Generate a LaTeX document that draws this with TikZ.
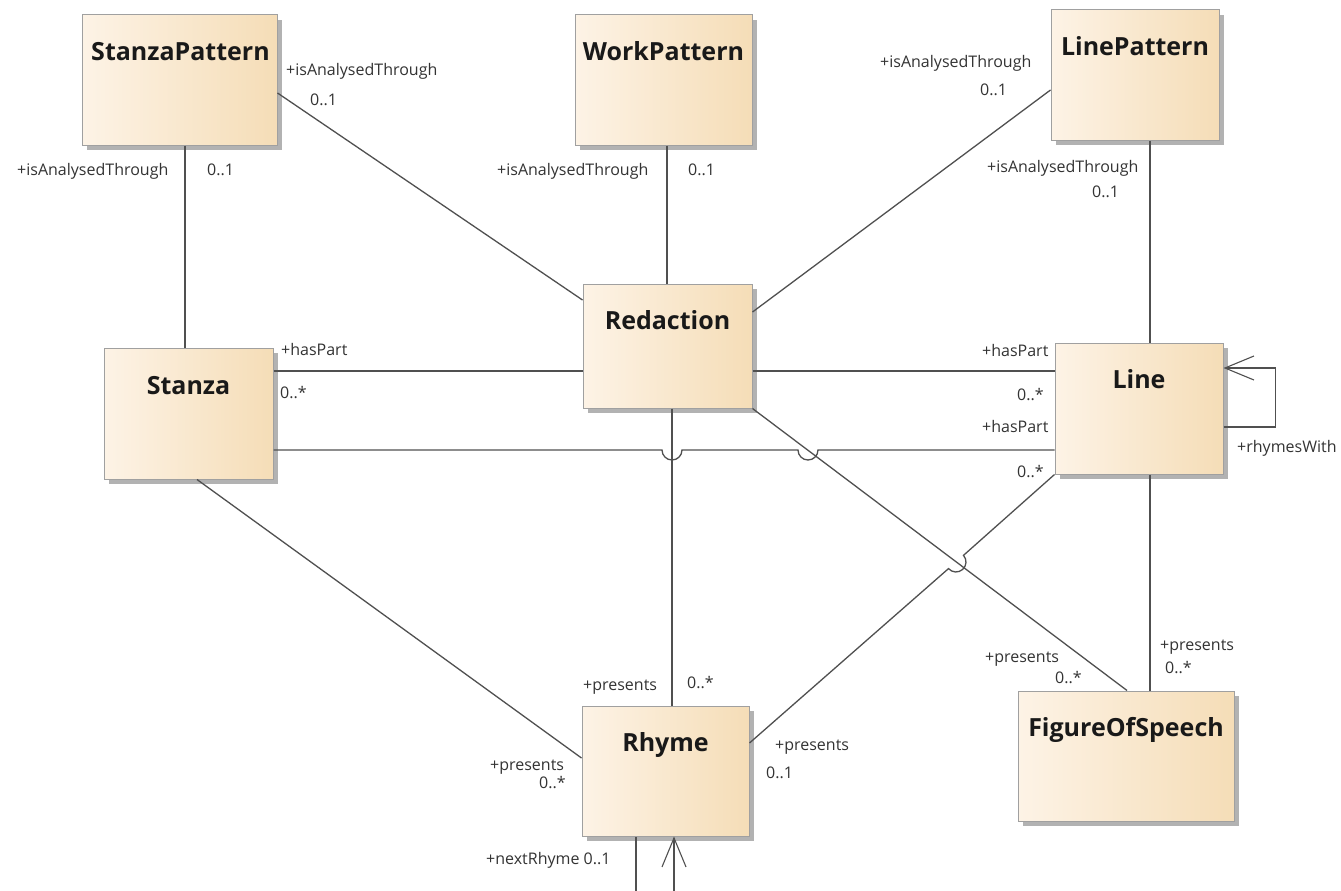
\documentclass[tikz,border=0pt]{standalone}
\usepackage{fontspec}
\setmainfont{Open Sans}
\usetikzlibrary{arrows.meta,shadows}
\definecolor{boxL}{RGB}{253,243,230}
\definecolor{boxR}{RGB}{245,221,183}
\definecolor{edgegray}{RGB}{160,160,160}
\definecolor{conncol}{RGB}{80,80,80}
\definecolor{shad}{RGB}{178,178,178}
\tikzset{
  umlbox/.style={draw=edgegray, line width=1pt, left color=boxL, right color=boxR, inner sep=0pt,
    drop shadow={shadow xshift=5pt, shadow yshift=-5pt, fill=shad, opacity=1}},
  ttl/.style={font=\fontsize{25}{30}\selectfont\bfseries, text=black!90, inner sep=0pt, text height=18pt, text depth=0pt},
  lbl/.style={font=\fontsize{16}{19}\selectfont, text=black!80, inner sep=0pt, anchor=west, text height=11.5pt, text depth=0pt},
  assoc/.style={draw=conncol, line width=1.3pt},
  selfarrow/.style={-{Straight Barb[length=29pt,width=24pt,line width=1.1pt]}}
}
\begin{document}
\begin{tikzpicture}[x=1pt,y=-1pt]
\useasboundingbox (0,0) rectangle (1341,891);
\fill[white] (0,0) rectangle (1341,891);

\coordinate (h1) at (662,450);
\coordinate (h2) at (798,450);
\coordinate (h3) at (948.5,568.6);
\coordinate (rl1) at (636,891);
\coordinate (rl2) at (674,891);

% boxes
\node[umlbox, minimum width=195pt, minimum height=130pt] (sp) at (179.5,80) {};
\node[umlbox, minimum width=177pt, minimum height=130pt] (wp) at (663.5,80) {};
\node[umlbox, minimum width=168pt, minimum height=130pt] (lp) at (1135,75) {};
\node[umlbox, minimum width=169pt, minimum height=131pt] (st) at (188.5,413.5) {};
\node[umlbox, minimum width=169pt, minimum height=124pt] (rd) at (667.5,346) {};
\node[umlbox, minimum width=168pt, minimum height=131pt] (ln) at (1139,408.5) {};
\node[umlbox, minimum width=167pt, minimum height=130pt] (rh) at (665.5,771) {};
\node[umlbox, minimum width=216pt, minimum height=130pt] (fs) at (1126,756) {};

% titles
\node[ttl] (tsp) at (180.5,51) {StanzaPattern};
\node[ttl] (twp) at (663.5,52) {WorkPattern};
\node[ttl] (tlp) at (1135,47) {LinePattern};
\node[ttl] (tst) at (188.5,385) {Stanza};
\node[ttl] (trd) at (667.5,320) {Redaction};
\node[ttl] (tln) at (1139,379) {Line};
\node[ttl] (trh) at (665.5,742) {Rhyme};
\node[ttl] (tfs) at (1126,727) {FigureOfSpeech};

% associations
\draw[assoc] ([xshift=5.5pt]sp.south) -- ([xshift=-3.5pt]st.north);
\draw[assoc] ([yshift=-13pt]sp.east) -- ([yshift=46pt]rd.west);
\draw[assoc] ([xshift=3.5pt]wp.south) -- ([xshift=-0.5pt]rd.north);
\draw[assoc] ([yshift=-15pt]lp.west) -- ([yshift=34pt]rd.east);
\draw[assoc] ([xshift=15pt]lp.south) -- ([xshift=11pt]ln.north);
\draw[assoc] ([yshift=42.5pt]st.east) -- ([yshift=-25pt]rd.west);
\draw[assoc] ([yshift=-25pt]rd.east) -- ([yshift=37.5pt]ln.west);
\draw[assoc] ([yshift=-36.5pt]st.east) -- (h1) arc[start angle=180,end angle=360,radius=10pt]
   -- (h2) arc[start angle=180,end angle=360,radius=10pt] -- ([yshift=-41.5pt]ln.west);
\draw[assoc] ([xshift=8.5pt]st.south) -- ([yshift=13pt]rh.west);
\draw[assoc] ([xshift=4.5pt]rd.south) -- ([xshift=6.5pt]rh.north);
\draw[assoc] (rd.south east) -- ([xshift=1pt]fs.north);
\draw[assoc] ([yshift=28pt]rh.east) -- (h3) arc[start angle=221.5,end angle=401.5,radius=10pt] -- (ln.south west);
\draw[assoc] ([xshift=11pt]ln.south) -- ([xshift=24pt]fs.north);
\draw[assoc, selfarrow] ([yshift=-18.5pt]ln.east) -- ++(52pt,0pt) |- ([yshift=40.5pt]ln.east);
\draw[assoc] (rl1) -- ([xshift=-29.5pt]rh.south);
\draw[assoc, selfarrow] (rl2) -- ([xshift=8.5pt]rh.south);

% role and multiplicity labels
\node[lbl] (a1) at (286,70) {+isAnalysedThrough};
\node[lbl] (a2) at (310,100) {0..1};
\node[lbl] (a3) at (17,170) {+isAnalysedThrough};
\node[lbl] (a4) at (207,170) {0..1};
\node[lbl] (a5) at (497,170) {+isAnalysedThrough};
\node[lbl] (a6) at (688,170) {0..1};
\node[lbl] (a7) at (880,62) {+isAnalysedThrough};
\node[lbl] (a8) at (980,90) {0..1};
\node[lbl] (a9) at (987,167) {+isAnalysedThrough};
\node[lbl] (a10) at (1092,192) {0..1};
\node[lbl] (b1) at (281,350) {+hasPart};
\node[lbl] (b2) at (280,393) {0..*};
\node[lbl] (b3) at (982,351) {+hasPart};
\node[lbl] (b4) at (1017,395) {0..*};
\node[lbl] (b5) at (982,427) {+hasPart};
\node[lbl] (b6) at (1017,472) {0..*};
\node[lbl] (b7) at (1237,447) {+rhymesWith};
\node[lbl] (c1) at (583,685) {+presents};
\node[lbl] (c2) at (687,683) {0..*};
\node[lbl] (c3) at (775,745) {+presents};
\node[lbl] (c4) at (766,773) {0..1};
\node[lbl] (c5) at (490,765) {+presents};
\node[lbl] (c6) at (539,783) {0..*};
\node[lbl] (c7) at (486,859) {+nextRhyme 0..1};
\node[lbl] (d1) at (985,657) {+presents};
\node[lbl] (d2) at (1055,678) {0..*};
\node[lbl] (d3) at (1160,645) {+presents};
\node[lbl] (d4) at (1165,668) {0..*};
\end{tikzpicture}
\end{document}
